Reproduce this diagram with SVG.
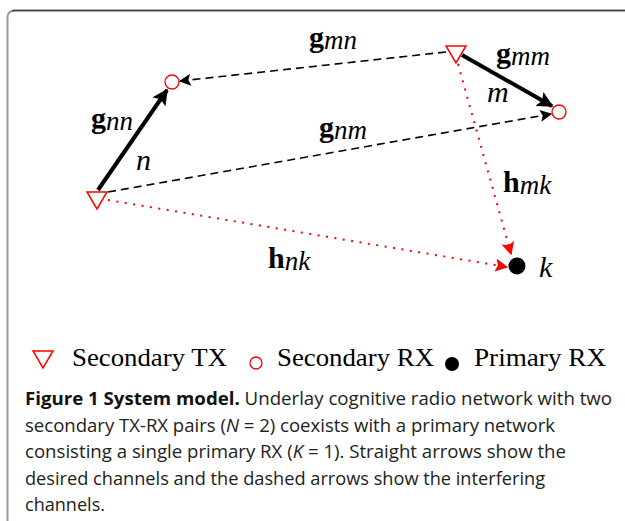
<svg xmlns="http://www.w3.org/2000/svg" width="625" height="521" viewBox="0 0 625 521">
<style>
.tx{fill:#fff;stroke:#f00;stroke-width:1.5;stroke-linejoin:miter}
.rx{fill:#fff;stroke:#f00;stroke-width:1.3}
.pr{fill:#000}
.desired{stroke:#000;stroke-width:4;fill:none}
.interf{stroke:#000;stroke-width:1.6;stroke-dasharray:8 5;fill:none}
.prim{stroke:#f00;stroke-width:2;stroke-dasharray:2 6.5;fill:none}
.math{font-family:"Liberation Serif","DejaVu Serif",serif;font-size:30px;fill:#000}
.b{font-weight:bold}
.i{font-style:italic;font-size:27px}
.leg{font-family:"Liberation Serif","DejaVu Serif",serif;font-size:25px;fill:#000}
.cap{font-family:"Open Sans","Noto Sans",sans-serif;font-size:18px;fill:#222}
</style>
<defs>
<marker id="ab" viewBox="0 0 10 10" refX="9" refY="5" markerWidth="4" markerHeight="4" orient="auto" markerUnits="strokeWidth">
<path d="M0,0 L10,5 L0,10 L2,5 Z" fill="#000"/>
</marker>
<marker id="ad" viewBox="0 0 10 10" refX="9" refY="5" markerWidth="8.5" markerHeight="7.5" orient="auto" markerUnits="strokeWidth">
<path d="M0,0 L10,5 L0,10 L2,5 Z" fill="#000"/>
</marker>
<marker id="ar" viewBox="0 0 10 10" refX="9" refY="5" markerWidth="7" markerHeight="6.5" orient="auto" markerUnits="strokeWidth">
<path d="M0,0 L10,5 L0,10 L2,5 Z" fill="#f00"/>
</marker>
</defs>
<rect width="625" height="521" fill="#fff"/>
<g id="frame">
<path d="M7.5,521 L7.5,17 A6.5,6.5 0 0 1 14,10.5 L625,10.5" fill="none" stroke="#999" stroke-width="2"/>
<path d="M12,11 A6.5,6.5 0 0 1 14,10.5 L625,10.5" fill="none" stroke="#444" stroke-width="1.5"/>
</g>
<g id="connectors">
<line class="interf" x1="446" y1="52" x2="180" y2="81" marker-end="url(#ad)"/>
<line class="interf" x1="108" y1="192" x2="551" y2="114" marker-end="url(#ad)"/>
<line class="prim" x1="458" y1="64" x2="511" y2="254" marker-end="url(#ar)"/>
<line class="prim" x1="108" y1="200" x2="507" y2="267" marker-end="url(#ar)"/>
<line class="desired" x1="98" y1="190" x2="167" y2="90" marker-end="url(#ab)"/>
<line class="desired" x1="462" y1="55" x2="552" y2="106" marker-end="url(#ab)"/>
</g>
<g id="tx-n"><polygon class="tx" points="87,192 107,192 97,209"/></g>
<g id="tx-m"><polygon class="tx" points="446,46 466,46 456,63"/></g>
<g id="rx-n"><circle class="rx" cx="172" cy="82" r="7"/></g>
<g id="rx-m"><circle class="rx" cx="559" cy="112" r="7"/></g>
<g id="prx-k"><circle class="pr" cx="517" cy="266" r="8.5"/></g>
<g id="labels">
<text class="math" x="309" y="47"><tspan class="b">g</tspan><tspan class="i" dy="2">mn</tspan></text>
<text class="math" x="496" y="63"><tspan class="b">g</tspan><tspan class="i" dy="2">mm</tspan></text>
<text class="math" x="91" y="128"><tspan class="b">g</tspan><tspan class="i" dy="2">nn</tspan></text>
<text class="math" x="319" y="137"><tspan class="b">g</tspan><tspan class="i" dy="2">nm</tspan></text>
<text class="math" x="503" y="192"><tspan class="b">h</tspan><tspan class="i" dy="2">mk</tspan></text>
<text class="math" x="268" y="268"><tspan class="b">h</tspan><tspan class="i" dy="2">nk</tspan></text>
<text class="math" x="487" y="102" font-style="italic">m</text>
<text class="math" x="136" y="170" font-style="italic">n</text>
<text class="math" x="539" y="277" font-style="italic">k</text>
</g>
<g id="legend">
<polygon class="tx" points="33,351 53,351 43,368"/>
<text class="leg" x="72" y="366" textLength="155" lengthAdjust="spacingAndGlyphs">Secondary TX</text>
<circle class="rx" cx="256" cy="363" r="6"/>
<text class="leg" x="277" y="366" textLength="157" lengthAdjust="spacingAndGlyphs">Secondary RX</text>
<circle class="pr" cx="452" cy="364" r="7"/>
<text class="leg" x="474" y="366" textLength="132" lengthAdjust="spacingAndGlyphs">Primary RX</text>
</g>
<g id="caption">
<text class="cap" x="25" y="405" textLength="587" lengthAdjust="spacingAndGlyphs"><tspan font-weight="bold" fill="#111">Figure 1 System model.</tspan> Underlay cognitive radio network with two</text>
<text class="cap" x="25" y="431.5" textLength="530" lengthAdjust="spacingAndGlyphs">secondary TX-RX pairs (<tspan font-style="italic">N</tspan> = 2) coexists with a primary network</text>
<text class="cap" x="25" y="458" textLength="541" lengthAdjust="spacingAndGlyphs">consisting a single primary RX (<tspan font-style="italic">K</tspan> = 1). Straight arrows show the</text>
<text class="cap" x="25" y="484.5" textLength="520" lengthAdjust="spacingAndGlyphs">desired channels and the dashed arrows show the interfering</text>
<text class="cap" x="25" y="511" textLength="80" lengthAdjust="spacingAndGlyphs">channels.</text>
</g>
</svg>
